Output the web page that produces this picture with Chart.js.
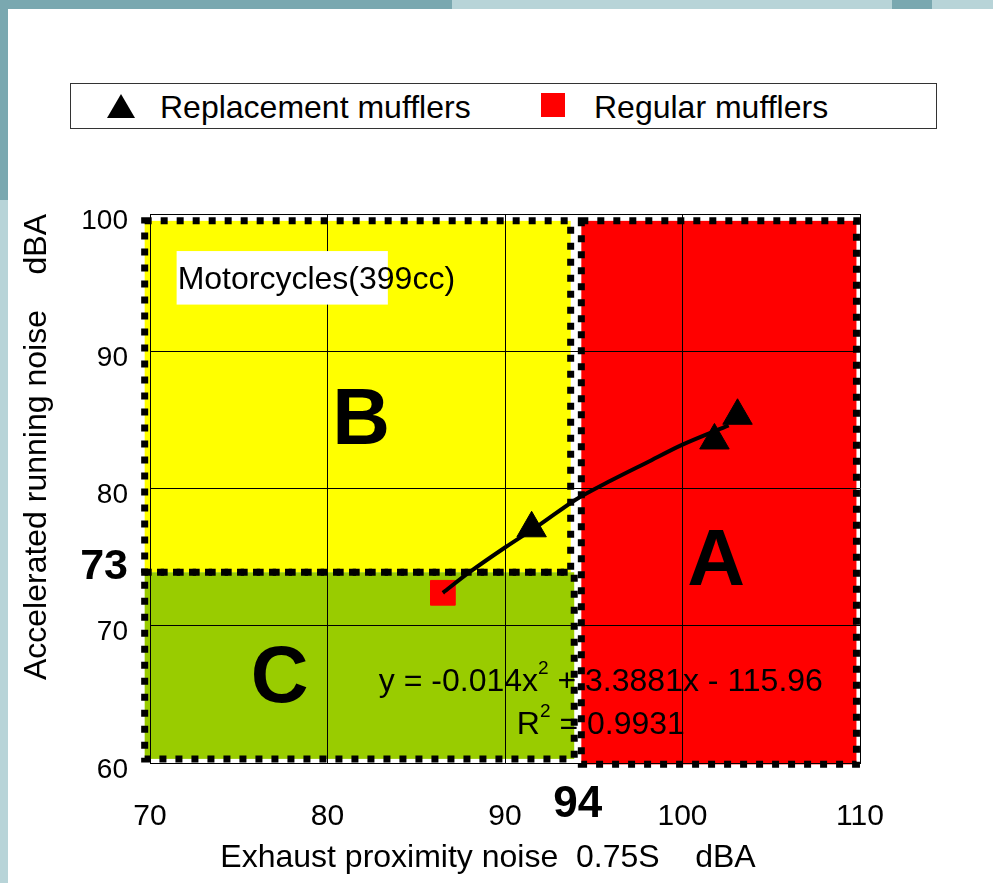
<!DOCTYPE html>
<html>
<head>
<title>Motorcycles (399cc) muffler noise</title>
<script src="https://cdn.jsdelivr.net/npm/chart.js@4.4.0/dist/chart.umd.min.js"></script>
<style>
    body {
        margin: 0;
        width: 993px;
        height: 883px;
        overflow: hidden;
        position: relative;
        background: #b8d4d8;
        font-family: "Liberation Sans", Arial, sans-serif;
    }
    #topDark { position: absolute; left: 0; top: 0; width: 452px; height: 9px; background: #7aa8b0; }
    #topBlob { position: absolute; left: 892px; top: 0; width: 40px; height: 9px; background: #7aa8b0; }
    #leftDark { position: absolute; left: 0; top: 0; width: 8px; height: 200px; background: #7aa8b0; }
    #panel { position: absolute; left: 8px; top: 9px; right: 0; bottom: 0; background: #fff; }
    #legend {
        position: absolute; left: 70px; top: 83px; width: 865px; height: 44px;
        border: 1px solid #333; background: #fff;
    }
    .item { position: absolute; top: 1px; height: 44px; line-height: 44px; font-size: 32px; color: #000; }
    .tri {
        position: absolute; top: 10px; width: 0; height: 0;
        border-left: 14px solid transparent; border-right: 14px solid transparent;
        border-bottom: 24px solid #000;
    }
    .sq { position: absolute; top: 9px; width: 24px; height: 24px; background: #ff0000; }
    #chart { position: absolute; left: 0; top: 0; }
</style>
</head>
<body>
<div id="topDark"></div><div id="topBlob"></div><div id="leftDark"></div>
<div id="panel"></div>
<div id="legend">
    <div class="tri" style="left: 36px;"></div>
    <div class="item" style="left: 89px;">Replacement mufflers</div>
    <div class="sq" style="left: 470px;"></div>
    <div class="item" style="left: 523px;">Regular mufflers</div>
</div>
<canvas id="chart" width="993" height="883"></canvas>

<script>
    // measured points
    const replX = [91.5, 101.8, 103.1];
    const replY = [77.1, 83.5, 85.3];
    const regX = [86.5];
    const regY = [72.4];
    // fitted curve as drawn on the picture
    const trendX = [86.5, 88, 90, 92, 94, 96, 98, 100, 102.6];
    const trendY = [72.4, 73.9, 75.7, 77.4, 79.2, 80.6, 81.9, 83.2, 84.6];
    // zones B (yellow), C (green), A (red)
    const zoneNames = ['B', 'C', 'A'];
    const zoneX0 = [69.7, 69.7, 94.3];
    const zoneX1 = [93.7, 93.9, 109.8];
    const zoneY0 = [73.9, 60.3, 59.9];
    const zoneY1 = [99.5, 73.9, 99.5];
    const zoneColors = ['#ffff00', '#99cc00', '#ff0000'];
    const zoneLabelX = [81.9, 77.3, 101.9];
    const zoneLabelY = [85.1, 66.3, 74.8];
    const xTicks = [70, 80, 90, 100, 110];
    const yTicks = [60, 70, 80, 90, 100];

    const FONT = '"Liberation Sans", Arial, sans-serif';

    function drawRich(ctx, parts, cx, cy, size) {
        let w = 0;
        parts.forEach(p => {
            ctx.font = (p[1] ? Math.round(size * 0.6) : size) + 'px ' + FONT;
            w += ctx.measureText(p[0]).width;
        });
        let xx = cx - w / 2;
        ctx.textAlign = 'left';
        ctx.textBaseline = 'middle';
        parts.forEach(p => {
            ctx.font = (p[1] ? Math.round(size * 0.6) : size) + 'px ' + FONT;
            ctx.fillText(p[0], xx, p[1] ? cy - size * 0.42 : cy);
            xx += ctx.measureText(p[0]).width;
        });
    }

    const zonePlugin = {
        id: 'zones',
        beforeDraw(chart) {
            const {ctx, scales: {x, y}} = chart;
            ctx.save();
            for (let i = 0; i < zoneNames.length; i++) {
                const l = x.getPixelForValue(zoneX0[i]), r = x.getPixelForValue(zoneX1[i]);
                const t = y.getPixelForValue(zoneY1[i]), b = y.getPixelForValue(zoneY0[i]);
                ctx.fillStyle = zoneColors[i];
                ctx.fillRect(l, t, r - l, b - t);
            }
            ctx.restore();
        },
        beforeDatasetsDraw(chart) {
            const {ctx, scales: {x, y}} = chart;
            ctx.save();
            ctx.fillStyle = '#000';
            // zone letters
            ctx.font = 'bold 80px ' + FONT;
            ctx.textAlign = 'center';
            ctx.textBaseline = 'middle';
            for (let i = 0; i < zoneNames.length; i++) {
                ctx.fillText(zoneNames[i], x.getPixelForValue(zoneLabelX[i]), y.getPixelForValue(zoneLabelY[i]) + 3);
            }
            // title box
            const bl = x.getPixelForValue(71.5), br = x.getPixelForValue(83.4);
            const bt = y.getPixelForValue(97.3), bb = y.getPixelForValue(93.4);
            ctx.fillStyle = '#fff';
            ctx.fillRect(bl, bt, br - bl, bb - bt);
            ctx.fillStyle = '#000';
            ctx.font = '32px ' + FONT;
            ctx.textAlign = 'left';
            ctx.fillText('Motorcycles(399cc)', bl + 1, y.getPixelForValue(95.2));
            // equation
            drawRich(ctx, [['y = -0.014x', false], ['2', true], [' + 3.3881x - 115.96', false]],
                x.getPixelForValue(95.4), y.getPixelForValue(65.9), 32);
            drawRich(ctx, [['R', false], ['2', true], [' = 0.9931', false]],
                x.getPixelForValue(95.4), y.getPixelForValue(62.75), 32);
            // dotted zone borders
            ctx.strokeStyle = '#000';
            ctx.lineWidth = 7;
            ctx.setLineDash([7, 9]);
            for (let i = 0; i < zoneNames.length; i++) {
                const l = x.getPixelForValue(zoneX0[i]), r = x.getPixelForValue(zoneX1[i]);
                const t = y.getPixelForValue(zoneY1[i]), b = y.getPixelForValue(zoneY0[i]);
                ctx.strokeRect(l, t, r - l, b - t);
            }
            ctx.restore();
        },
        afterDraw(chart) {
            const {ctx, chartArea, scales: {x, y}} = chart;
            ctx.save();
            ctx.fillStyle = '#000';
            ctx.font = 'bold 43px ' + FONT;
            ctx.textAlign = 'right';
            ctx.textBaseline = 'middle';
            ctx.fillText('73', chartArea.left - 22, y.getPixelForValue(74.3));
            ctx.font = 'bold 44px ' + FONT;
            ctx.textAlign = 'center';
            ctx.fillText('94', x.getPixelForValue(94.1), chartArea.bottom + 42);
            ctx.font = '32px ' + FONT;
            ctx.fillText('Exhaust proximity noise  0.75S    dBA', 488, 858);
            ctx.restore();
        }
    };

    new Chart(document.getElementById('chart'), {
        type: 'scatter',
        data: {
            datasets: [
                {
                    type: 'line',
                    label: 'fit',
                    data: trendX.map((v, i) => ({x: v, y: trendY[i]})),
                    borderColor: '#000',
                    borderWidth: 4,
                    pointRadius: 0,
                    tension: 0.3,
                    fill: false,
                    order: 0
                },
                {
                    label: 'Replacement mufflers',
                    data: replX.map((v, i) => ({x: v, y: replY[i]})),
                    pointStyle: 'triangle',
                    pointRadius: 17,
                    backgroundColor: '#000',
                    borderColor: '#000',
                    order: 1
                },
                {
                    label: 'Regular mufflers',
                    data: regX.map((v, i) => ({x: v, y: regY[i]})),
                    pointStyle: 'rect',
                    pointRadius: 17.5,
                    backgroundColor: '#ff0000',
                    borderColor: '#ff0000',
                    order: 2
                }
            ]
        },
        options: {
            responsive: false,
            animation: false,
            devicePixelRatio: 1,
            layout: {padding: {left: 0, top: 214, right: 133, bottom: 0}},
            plugins: {legend: {display: false}, tooltip: {enabled: false}},
            scales: {
                x: {
                    type: 'linear', min: 70, max: 110,
                    afterBuildTicks: s => { s.ticks = xTicks.map(v => ({value: v})); },
                    afterFit: s => { s.height = 120; },
                    grid: {color: '#000', lineWidth: 1, drawTicks: false},
                    border: {color: '#000', width: 1},
                    ticks: {color: '#000', font: {size: 30, family: FONT}, padding: 36, maxRotation: 0}
                },
                y: {
                    type: 'linear', min: 60, max: 100,
                    afterBuildTicks: s => { s.ticks = yTicks.map(v => ({value: v})); },
                    afterFit: s => { s.width = 150; },
                    grid: {color: '#000', lineWidth: 1, drawTicks: false},
                    border: {color: '#000', width: 1},
                    ticks: {color: '#000', font: {size: 28, family: FONT}, padding: 22, labelOffset: 7},
                    title: {
                        display: true, text: 'Accelerated running noise    dBA', align: 'end',
                        color: '#000', font: {size: 32, family: FONT}, padding: {top: 18, bottom: 0}
                    }
                }
            }
        },
        plugins: [zonePlugin]
    });
</script>
</body>
</html>
